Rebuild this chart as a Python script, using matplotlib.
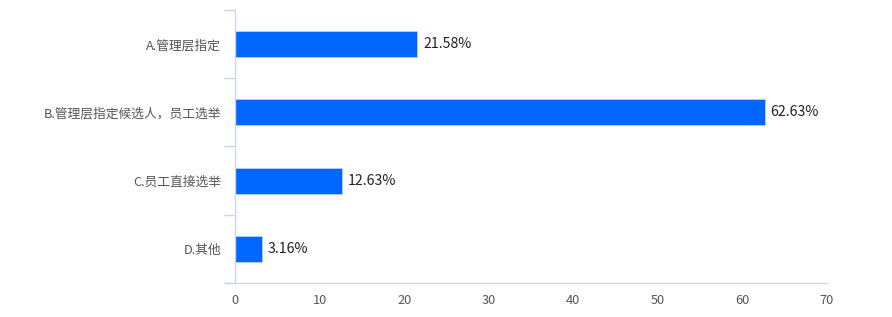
import matplotlib
matplotlib.use("Agg")
import matplotlib.pyplot as plt
from matplotlib.ticker import FixedLocator

plt.rcParams['font.family'] = ['Noto Sans CJK SC', 'DejaVu Sans']

categories = ["A.管理层指定", "B.管理层指定候选人，员工选举", "C.员工直接选举", "D.其他"]
values = [21.58, 62.63, 12.63, 3.16]
x_ticks = [0, 10, 20, 30, 40, 50, 60, 70]

axis_color = "#ccd6eb"
bar_color = "#0066ff"

fig = plt.figure(figsize=(8.92, 3.17), dpi=100)
ax = fig.add_axes([0.2635, 0.1073, 0.6635, 0.8612])

ypos = list(range(len(categories)))
ax.barh(ypos, values, height=0.38, color=bar_color, edgecolor="#b3d1ff", linewidth=0.6)
for y, v in zip(ypos, values):
    ax.text(v + 0.65, y, f"{v:.2f}%", va="center", ha="left", fontsize=10.2, color="#222222")

ax.set_xlim(0, 70)
ax.set_ylim(len(categories) - 0.5, -0.5)
ax.set_xticks(x_ticks)
ax.set_yticks(ypos)
ax.set_yticklabels(categories)
ax.yaxis.set_minor_locator(FixedLocator([i - 0.5 for i in range(len(categories) + 1)]))

ax.tick_params(axis="y", which="major", length=0, pad=10, labelsize=9.2, labelcolor="#555555")
ax.tick_params(axis="y", which="minor", length=8, width=1, color=axis_color)
ax.tick_params(axis="x", length=0, pad=8, labelsize=9.2, labelcolor="#555555")

for s in ["top", "right"]:
    ax.spines[s].set_visible(False)
ax.spines["left"].set_color(axis_color)
ax.spines["bottom"].set_color(axis_color)
ax.spines["left"].set_linewidth(1)
ax.spines["bottom"].set_linewidth(1)
ax.spines["bottom"].set_bounds(-1.2, 70)

fig.savefig("out.png", dpi=100)
